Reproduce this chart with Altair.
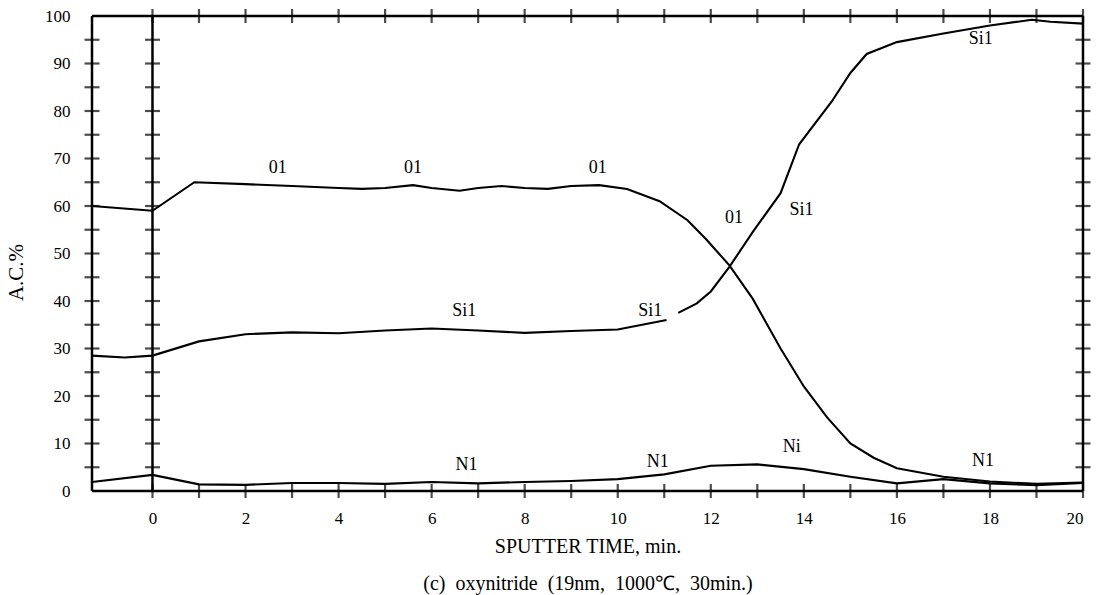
import altair as alt
import pandas as pd

# ---- data ----
o1_x = [-1.3, 0, 0.9, 2, 3, 4, 4.5, 5, 5.6, 6, 6.6, 7, 7.5, 8, 8.5, 9, 9.6, 10.2,
        10.9, 11.5, 11.9, 12.4, 12.9, 13.5, 14, 14.5, 15, 15.5, 16, 17, 18, 19, 20]
o1_y = [60, 59, 65, 64.6, 64.2, 63.8, 63.6, 63.8, 64.4, 63.8, 63.2, 63.8, 64.2, 63.8,
        63.6, 64.2, 64.4, 63.6, 61, 57, 53, 47.5, 40.5, 30, 22, 15.5, 10, 7, 4.8, 3,
        2, 1.5, 1.8]

si1a_x = [-1.3, -0.6, 0, 1, 2, 3, 4, 5, 6, 7, 8, 9, 10, 11.05]
si1a_y = [28.5, 28.1, 28.5, 31.5, 33, 33.4, 33.2, 33.8, 34.2, 33.8, 33.3, 33.7, 34, 36]
si1b_x = [11.3, 11.7, 12, 12.4, 12.9, 13.5, 13.9, 14.6, 15, 15.35, 16, 17, 18, 18.9,
          19.3, 20]
si1b_y = [37.5, 39.5, 42, 47.2, 54.5, 62.7, 73, 82, 88, 92, 94.5, 96.3, 98, 99.2,
          98.8, 98.4]

n1_x = [-1.3, 0, 1, 2, 3, 4, 5, 6, 7, 8, 9, 10, 11, 12, 13, 14, 15, 16, 17, 18, 19, 20]
n1_y = [1.9, 3.4, 1.4, 1.3, 1.7, 1.7, 1.5, 1.9, 1.6, 1.9, 2.1, 2.5, 3.5, 5.3, 5.6,
        4.6, 3, 1.6, 2.5, 1.6, 1.2, 1.7]

label_text = ["01", "01", "01", "01", "Si1", "Si1", "Si1", "Si1", "N1", "N1", "Ni", "N1"]
label_x = [2.69, 5.6, 9.57, 12.5, 13.95, 17.8, 6.7, 10.7, 6.75, 10.86, 13.74, 17.85]
label_y = [68, 68, 68, 57.5, 59.2, 95.2, 38, 38, 5.5, 6.1, 9.3, 6.3]

x_labels = [0, 2, 4, 6, 8, 10, 12, 14, 16, 18, 20]
y_labels = [0, 10, 20, 30, 40, 50, 60, 70, 80, 90, 100]
x_minor = list(range(0, 21))          # crossing ticks on top / bottom lines
y_minor = list(range(5, 100, 5))      # crossing ticks on the vertical lines
vlines_x = [-1.3, 0, 20]
X_MIN, X_MAX = -1.3, 20

FONT = "Liberation Serif"
SP = "\u2002"
x_title = ["SPUTTER TIME, min.",
           SP.join(["(c)", "oxynitride", "(19nm,", "1000\u2103,", "30min.)"])]

curves = pd.concat([
    pd.DataFrame({"x": o1_x, "y": o1_y, "seg": "O1"}),
    pd.DataFrame({"x": si1a_x, "y": si1a_y, "seg": "Si1a"}),
    pd.DataFrame({"x": si1b_x, "y": si1b_y, "seg": "Si1b"}),
    pd.DataFrame({"x": n1_x, "y": n1_y, "seg": "N1"}),
])
labels = pd.DataFrame({"t": label_text, "x": label_x, "y": label_y})
hframe = pd.DataFrame({"y": [0, 100], "x": [X_MIN, X_MIN], "x2": [X_MAX, X_MAX]})
vframe = pd.DataFrame({"x": vlines_x, "y": [0] * 3, "y2": [100] * 3})
vticks = pd.DataFrame([{"x": vx, "y": yv} for vx in vlines_x for yv in y_minor])
hticks = pd.DataFrame([{"x": xv, "y": yv} for yv in [0, 100] for xv in x_minor])

xs = alt.Scale(domain=[X_MIN, X_MAX], nice=False, zero=False)
ys = alt.Scale(domain=[0, 100], nice=False, zero=False)

x_axis = alt.Axis(
    values=x_labels, domain=False, ticks=False, grid=False, labelPadding=19,
    labelFont=FONT, labelFontSize=17, labelColor="black",
    title=x_title,
    titleFont=FONT, titleFontSize=20, titleFontWeight="normal", titleColor="black",
    titleLineHeight=37, titlePadding=10)
y_axis = alt.Axis(
    values=y_labels, domain=False, ticks=False, grid=False, labelPadding=22,
    labelFont=FONT, labelFontSize=17, labelColor="black",
    title="A.C.%", titleFont=FONT, titleFontSize=21, titleFontWeight="normal",
    titleColor="black", titleX=-66, titleY=256)

X = alt.X("x:Q", scale=xs, axis=x_axis)
Y = alt.Y("y:Q", scale=ys, axis=y_axis)

lines = alt.Chart(curves).mark_line(color="black", strokeWidth=2.1).encode(
    x=X, y=Y, detail="seg:N", order="x:Q")

frame_h = alt.Chart(hframe).mark_rule(color="black", strokeWidth=2.5).encode(
    x=X, x2="x2:Q", y=Y)
frame_v = alt.Chart(vframe).mark_rule(color="black", strokeWidth=2.5).encode(
    x=X, y=Y, y2="y2:Q")
ticks_v = alt.Chart(vticks).mark_tick(orient="horizontal", color="black",
                                      size=15, thickness=2.2).encode(x=X, y=Y)
ticks_h = alt.Chart(hticks).mark_tick(orient="vertical", color="black",
                                      size=14, thickness=2.2).encode(x=X, y=Y)

text = alt.Chart(labels).mark_text(font=FONT, fontSize=18, color="black").encode(
    x=X, y=Y, text="t:N")

chart = alt.layer(lines, frame_h, frame_v, ticks_v, ticks_h, text).properties(
    width=991, height=475,
    padding={"left": 92, "top": 16, "right": 19, "bottom": 104},
    autosize="none",
    background="white",
).configure_view(stroke=None)

chart.save("out.html", embed_options={"renderer": "svg", "actions": False})
